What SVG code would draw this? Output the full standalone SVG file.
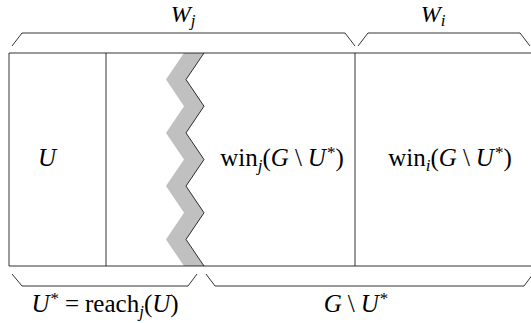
<svg xmlns="http://www.w3.org/2000/svg" width="531" height="323" viewBox="0 0 531 323">
<style>
.ln{fill:none;stroke:#000;stroke-width:0.8;stroke-linejoin:miter}
.br{fill:none;stroke:#000;stroke-width:0.8}
text{font-family:"Liberation Serif","Times New Roman",serif;font-size:25px;fill:#000}
.i{font-style:italic}
.s{font-size:17px}
.t{font-size:24px}
</style>
<rect width="531" height="323" fill="#fff"/>
<g id="barrier">
<polygon fill="#c0c0c0" points="204,53 186,79.6 204,106.2 186,132.9 204,159.5 186,186.1 204,212.8 186,239.4 204,266 184,266 166,239.4 184,212.8 166,186.1 184,159.5 166,132.9 184,106.2 166,79.6 184,53"/>
<polyline class="ln" points="204,53 186,79.6 204,106.2 186,132.9 204,159.5 186,186.1 204,212.8 186,239.4 204,266"/>
</g>
<g id="frame">
<path class="ln" d="M532,53 H9 V266 H532 M106,53 V266 M355,53 V266"/>
</g>
<g id="node-U"><text x="47" y="166" text-anchor="middle" class="i">U</text></g>
<g id="node-winj"><text x="282" y="166" text-anchor="middle">win<tspan class="i s" dy="5">j</tspan><tspan dy="-5">(</tspan><tspan class="i">G</tspan><tspan dx="6">\</tspan><tspan class="i" dx="6">U</tspan><tspan class="s" dx="1" dy="-8">*</tspan><tspan dy="8">)</tspan></text></g>
<g id="node-wini"><text x="450" y="166" text-anchor="middle">win<tspan class="i s" dy="5">i</tspan><tspan dy="-5">(</tspan><tspan class="i">G</tspan><tspan dx="6">\</tspan><tspan class="i" dx="6">U</tspan><tspan class="s" dx="1" dy="-8">*</tspan><tspan dy="8">)</tspan></text></g>
<g id="connectors">
<polyline class="br" points="12,46 22,33 345,33 355,46"/>
<polyline class="br" points="358,46 368,33 520,33 530,46"/>
<polyline class="br" points="12,274 22,286 188,286 197,274"/>
<polyline class="br" points="206,274 215,286 524,286 533,274"/>
</g>
<g id="label-Wj"><text x="183" y="22" text-anchor="middle" class="t"><tspan class="i">W</tspan><tspan class="i s" dy="4">j</tspan></text></g>
<g id="label-Wi"><text x="433" y="22" text-anchor="middle" class="t"><tspan class="i">W</tspan><tspan class="i s" dy="4">i</tspan></text></g>
<g id="label-Ustar"><text x="105" y="312" text-anchor="middle"><tspan class="i">U</tspan><tspan class="s" dx="1" dy="-8">*</tspan><tspan dx="6" dy="8">=</tspan><tspan dx="6">reach</tspan><tspan class="i s" dy="5">j</tspan><tspan dy="-5">(</tspan><tspan class="i">U</tspan>)</text></g>
<g id="label-GminusU"><text x="356" y="312" text-anchor="middle"><tspan class="i">G</tspan><tspan dx="6">\</tspan><tspan class="i" dx="6">U</tspan><tspan class="s" dx="1" dy="-8">*</tspan></text></g>
</svg>
